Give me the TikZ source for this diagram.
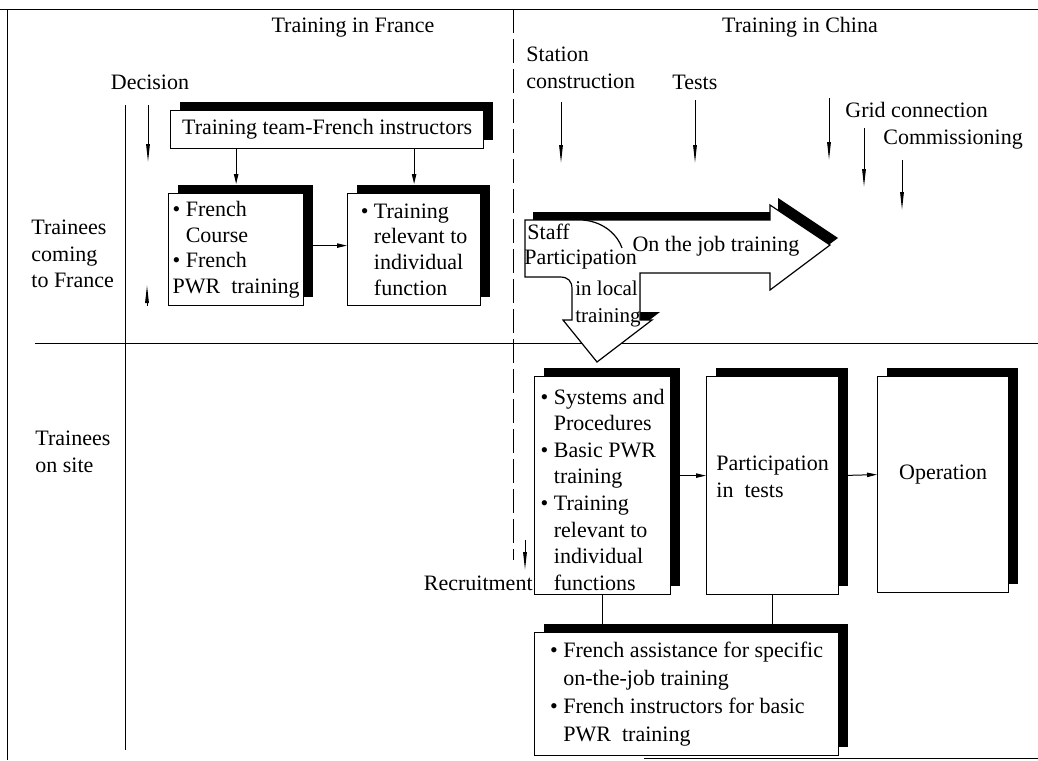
\documentclass[tikz,border=0pt]{standalone}
\usepackage{fontspec}
\setmainfont{Liberation Serif}
\usepackage{tikz}
\usetikzlibrary{arrows.meta, calc, shadows}
\newcommand{\bulind}{\hphantom{\textbullet\ }}

\tikzset{
	blackshadow/.style={drop shadow={shadow xshift=4.5pt, shadow yshift=4.5pt, fill=black, opacity=1}},
	panel/.style={draw, fill=white, line width=0.6pt, inner sep=2pt, align=left, blackshadow},
	milestone/.style={line width=0.5pt, -{Triangle[length=9pt, width=1.8pt]}},
	feed/.style={line width=0.5pt, -{Triangle[length=5pt, width=2.2pt]}},
}

\begin{document}
\begin{tikzpicture}[x=0.5pt, y=-0.5pt, inner sep=1pt, font=\fontsize{11}{13.3}\selectfont]
	\useasboundingbox (0,0) rectangle (1038,760);
	\draw (0,9) -- (1038,9);
	\draw (7,9) -- (7,760);
	\draw (644,758) -- (1038,758);
	\draw (35,343) -- (1038,343);
	\draw (125,105) -- (125,750);
	\draw [dash pattern=on 12pt off 3pt] (513,9) -- (513,560);

	\node (france) at (353,28) {Training in France};
	\node (china) at (800,27) {Training in China};
	\node (decision) at (150,82) {Decision};
	\node [anchor=west, align=left] (coming) at (29,254) {Trainees\\coming\\to France};
	\node [anchor=west, align=left] (onsite) at (33,452) {Trainees\\on site};
	\node [anchor=west, align=left] (station) at (524,68) {Station\\construction};
	\node [anchor=west] (tests) at (670,82) {Tests};
	\node [anchor=west] (grid) at (843,110) {Grid connection};
	\node [anchor=west] (commis) at (881,140) {Commissioning};
	\node [anchor=east] (recruit) at (535,583) {Recruitment};

	\coordinate (decA) at (148,105);
	\coordinate (decB) at (148,162);
	\coordinate (comA) at (147,306);
	\coordinate (comB) at (147,285);
	\coordinate (stA) at (561,102);
	\coordinate (stB) at (561,163);
	\coordinate (teA) at (695,100);
	\coordinate (teB) at (695,163);
	\coordinate (gcA) at (829,98);
	\coordinate (gcB) at (829,160);
	\coordinate (grA) at (864,128);
	\coordinate (grB) at (864,187);
	\coordinate (cmA) at (902,160);
	\coordinate (cmB) at (902,210);
	\coordinate (reA) at (525,540);
	\coordinate (reB) at (525,570);
	\draw [milestone] (decA) -- (decB);
	\draw [milestone] (comA) -- (comB);
	\draw [milestone] (stA) -- (stB);
	\draw [milestone] (teA) -- (teB);
	\draw [milestone] (gcA) -- (gcB);
	\draw [milestone] (grA) -- (grB);
	\draw [milestone] (cmA) -- (cmB);
	\draw [milestone] (reA) -- (reB);

	\node [panel, anchor=north west, minimum width=156.5pt, minimum height=19pt, align=center] (team) at (170,110) {Training team-French instructors};
	\node [panel, anchor=north west, minimum width=67pt, minimum height=56pt, font=\fontsize{11}{12.8}\selectfont] (course) at (168,193) {\textbullet\ French\\\bulind Course\\\textbullet\ French\\PWR\ \ training};
	\node [panel, anchor=north west, minimum width=66.5pt, minimum height=56pt, font=\fontsize{11}{12.8}\selectfont] (relevant) at (347,193) {\textbullet\ Training\\\bulind relevant to\\\bulind individual\\\bulind function};
	\draw [feed] (team.south -| course.north) -- ([yshift=4.5pt]course.north);
	\draw [feed] (team.south -| relevant.north) -- ([yshift=4.5pt]relevant.north);
	\draw [feed] ([yshift=2pt]course.east) -- ([yshift=2pt]relevant.west);

	\fill (533,212) -- (778,212) -- (778,198) -- (838,238) -- (778,282) -- (778,265)
		-- (640,265) -- (640,312) -- (660,312) -- (605,354) -- (597,350) -- (600,222)
		-- (533,222) -- cycle;
	\draw [fill=white, line width=0.6pt]
		(525,220) -- (770,220) -- (770,205) -- (830,245) -- (770,290) -- (770,273)
		-- (640,273) -- (640,320) -- (652,320) -- (597,362) -- (563,320) -- (572,320)
		-- (572,289) .. controls (572,281) and (568,277) .. (560,277) -- (525,277) -- cycle;
	\draw [line width=0.6pt] (583,220) .. controls (605,222) and (618,236) .. (622,248);
	\node [anchor=west] (staff) at (525,232) {Staff};
	\node [anchor=west] (partic) at (522,260) {Participation};
	\node [anchor=west, align=left, font=\fontsize{10.5}{13.5}\selectfont] (local) at (573,304) {in local\\training};
	\node (ojt) at (716,246) {On the job training};
%	\fill (597,362) circle (2pt);

	\node [panel, anchor=north west, minimum width=68pt, minimum height=109pt] (sysbox) at (534,376) {};
	\node [panel, anchor=north west, minimum width=66pt, minimum height=109pt] (testbox) at (706,376) {};
	\node [panel, anchor=north west, minimum width=65.5pt, minimum height=108pt] (opbox) at (877,376) {};
	\node [align=left] (systxt) at ([yshift=-2pt]sysbox.center) {\textbullet\ Systems and\\\bulind Procedures\\\textbullet\ Basic PWR\\\bulind training\\\textbullet\ Training\\\bulind relevant to\\\bulind individual\\\bulind functions};
	\node [align=left] (testtxt) at ([yshift=4.5pt]testbox.center) {Participation\\in\ \ tests};
	\node (optxt) at ([yshift=5pt]opbox.center) {Operation};
	\draw [feed] ([yshift=5pt]sysbox.east) -- ([yshift=5pt]testbox.west);
	\draw [feed] ([yshift=5pt]testbox.east) -- ([yshift=5pt]opbox.west);

	\node [panel, anchor=north west, minimum width=152pt, minimum height=61.5pt, font=\fontsize{11}{14}\selectfont] (assist) at (534,632) {\textbullet\ French assistance for specific\\\bulind on-the-job training\\\textbullet\ French instructors for basic\\\bulind PWR\ \ training};
	\draw (sysbox.south) -- (sysbox.south |- assist.north);
	\draw (testbox.south) -- (testbox.south |- assist.north);
\end{tikzpicture}
\end{document}
